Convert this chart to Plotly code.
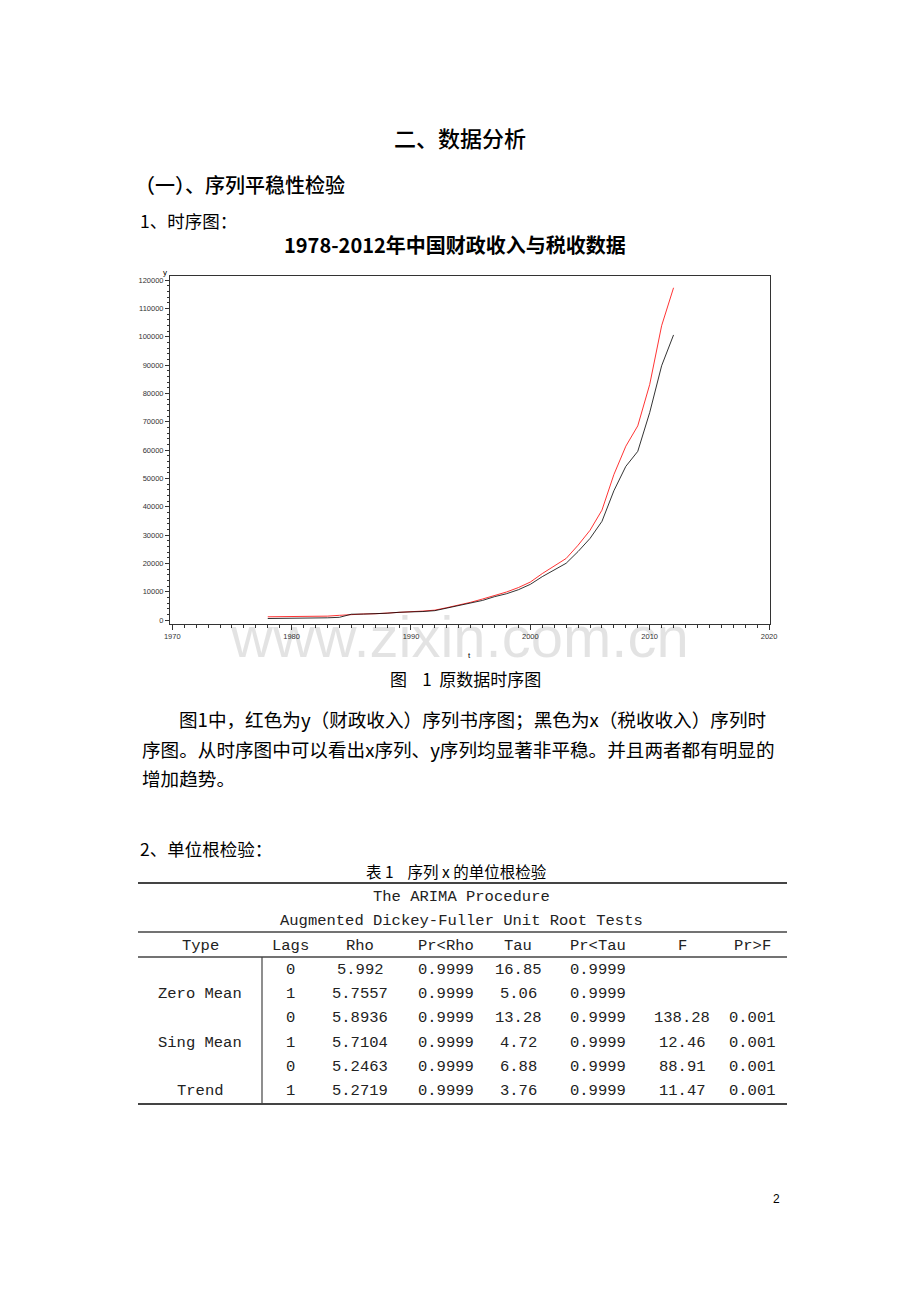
import plotly.graph_objects as go

# page is 920x1302; the browser body adds an 8px margin, so the figure is 16px smaller
PAGE_W, PAGE_H = 920, 1302
OFF = 8
W, H = PAGE_W - 2 * OFF, PAGE_H - 2 * OFF

# ---- data ----
years = list(range(1978, 2013))
fiscal_revenue = [1132.26, 1146.38, 1159.93, 1175.79, 1212.33, 1366.95, 1642.86, 2004.82,
                  2122.01, 2199.35, 2357.24, 2664.90, 2937.10, 3149.48, 3483.37, 4348.95,
                  5218.10, 6242.20, 7407.99, 8651.14, 9875.95, 11444.08, 13395.23, 16386.04,
                  18903.64, 21715.25, 26396.47, 31649.29, 38760.20, 51321.78, 61330.35,
                  68518.30, 83101.51, 103874.43, 117253.52]
tax_revenue = [519.28, 537.82, 571.70, 629.89, 700.02, 775.59, 947.35, 2040.79,
               2090.73, 2140.36, 2390.47, 2727.40, 2821.86, 2990.17, 3296.91, 4255.30,
               5126.88, 6038.04, 6909.82, 8234.04, 9262.80, 10682.58, 12581.51, 15301.38,
               17636.45, 20017.31, 24165.68, 28778.54, 34804.35, 45621.97, 54223.79,
               59521.59, 73210.79, 89738.39, 100614.28]

table_headers = ["Type", "Lags", "Rho", "Pr&lt;Rho", "Tau", "Pr&lt;Tau", "F", "Pr&gt;F"]
col_type = ["", "Zero Mean", "", "Sing Mean", "", "Trend"]
col_lags = ["0", "1", "0", "1", "0", "1"]
col_rho = ["5.992", "5.7557", "5.8936", "5.7104", "5.2463", "5.2719"]
col_pr_rho = ["0.9999", "0.9999", "0.9999", "0.9999", "0.9999", "0.9999"]
col_tau = ["16.85", "5.06", "13.28", "4.72", "6.88", "3.76"]
col_pr_tau = ["0.9999", "0.9999", "0.9999", "0.9999", "0.9999", "0.9999"]
col_f = ["", "", "138.28", "12.46", "88.91", "11.47"]
col_pr_f = ["", "", "0.001", "0.001", "0.001", "0.001"]

CJK = "Noto Sans CJK SC"
MONO = "Liberation Mono"


def px(X):
    return (X - OFF) / W


def py(Y):
    return 1 - (Y - OFF) / H


fig = go.Figure()
fig.add_trace(go.Scatter(x=years, y=fiscal_revenue, mode="lines",
                         line=dict(color="#ff0000", width=0.8), hoverinfo="skip", showlegend=False))
fig.add_trace(go.Scatter(x=years, y=tax_revenue, mode="lines",
                         line=dict(color="#000000", width=0.8), hoverinfo="skip", showlegend=False))

axcol = "#333333"
tickfont = dict(family="Liberation Sans", size=7.5, color="#333333")
fig.update_layout(
    width=W, height=H, margin=dict(l=0, r=0, t=0, b=0, autoexpand=False),
    paper_bgcolor="white", plot_bgcolor="white", showlegend=False,
    xaxis=dict(domain=[px(170), px(770)], range=[1969.81, 2020.08],
               tickmode="linear", tick0=1970, dtick=10, ticks="outside", ticklen=5,
               tickwidth=1, tickcolor=axcol, showline=True, linecolor=axcol, linewidth=1,
               mirror=True, showgrid=False, zeroline=False, tickfont=tickfont,
               minor=dict(tick0=1970, dtick=1, ticks="outside", ticklen=3, tickcolor=axcol)),
    yaxis=dict(domain=[py(624), py(276)], range=[-1412, 121412],
               tickmode="linear", tick0=0, dtick=10000, tickformat="d", ticks="outside",
               ticklen=4, tickwidth=1, tickcolor=axcol, showline=True, linecolor=axcol,
               linewidth=1, mirror=True, showgrid=False, zeroline=False, tickfont=tickfont,
               minor=dict(tick0=0, dtick=2000, ticks="outside", ticklen=2, tickcolor=axcol)),
)


def txt(x, y, s, size, anchor="left", family=CJK, color="#000000", weight=None):
    f = dict(family=family, size=size, color=color)
    if weight is not None:
        f["weight"] = weight
    fig.add_annotation(x=px(x), y=py(y), xref="paper", yref="paper", text=s,
                       showarrow=False, xanchor=anchor, yanchor="middle", font=f)


def hline(y, x0=138, x1=787, width=1.5):
    fig.add_shape(type="line", xref="paper", yref="paper", x0=px(x0), x1=px(x1),
                  y0=py(y), y1=py(y), line=dict(color="#444444", width=width))


# watermark
txt(459, 636, "www.zixin.com.cn", 58, anchor="center", family="Liberation Sans",
    color="rgba(0,0,0,0.11)")

# headings
txt(460, 137, "二、数据分析", 22, anchor="center", weight=500)
txt(133, 184, "（一）、序列平稳性检验", 20, weight=500)
txt(138, 221, "1、时序图：", 17.5)
txt(455, 244, "1978-2012年中国财政收入与税收数据", 20, anchor="center", weight=700)

# axis titles
txt(165, 272, "y", 8, anchor="center", family="Liberation Sans")
txt(470, 655, "t", 8, anchor="center", family="Liberation Sans")

# caption & paragraph
txt(465, 678, "图&nbsp;&nbsp;&nbsp;&nbsp;1&nbsp;&nbsp;原数据时序图", 17, anchor="center")
txt(177, 718, "图1中，红色为y（财政收入）序列书序图；黑色为x（税收收入）序列时", 18.6)
txt(140, 748, "序图。从时序图中可以看出x序列、y序列均显著非平稳。并且两者都有明显的", 18.6)
txt(140, 777, "增加趋势。", 18.6)

txt(138, 848, "2、单位根检验：", 17.5)

# table
txt(456, 871, "表&nbsp;1&nbsp;&nbsp;&nbsp;&nbsp;序列&nbsp;x&nbsp;的单位根检验", 15.5, anchor="center")
hline(883, width=2)
txt(462, 897, "The ARIMA Procedure", 15.5, anchor="center", family=MONO, color="#222222")
txt(462, 921, "Augmented Dickey-Fuller Unit Root Tests", 15.5, anchor="center", family=MONO,
    color="#222222")
hline(932)
col_x = [200, 290, 360, 446, 518, 598, 682, 752]
for cx, h in zip(col_x, table_headers):
    txt(cx, 946, h, 15.5, anchor="center", family=MONO, color="#222222")
hline(957)
row_y = [970, 994, 1018, 1043, 1067, 1091]
columns = [col_type, col_lags, col_rho, col_pr_rho, col_tau, col_pr_tau, col_f, col_pr_f]
for cx, col in zip(col_x, columns):
    for ry, val in zip(row_y, col):
        if val:
            txt(cx, ry, val, 15.5, anchor="center", family=MONO, color="#222222")
hline(1104, width=2)
fig.add_shape(type="line", xref="paper", yref="paper", x0=px(262), x1=px(262),
              y0=py(957), y1=py(1104), line=dict(color="#444444", width=1.2))

# page number
txt(776, 1199, "2", 12, anchor="center", family="Liberation Sans")

fig.write_html("out.html", config={"displayModeBar": False})
